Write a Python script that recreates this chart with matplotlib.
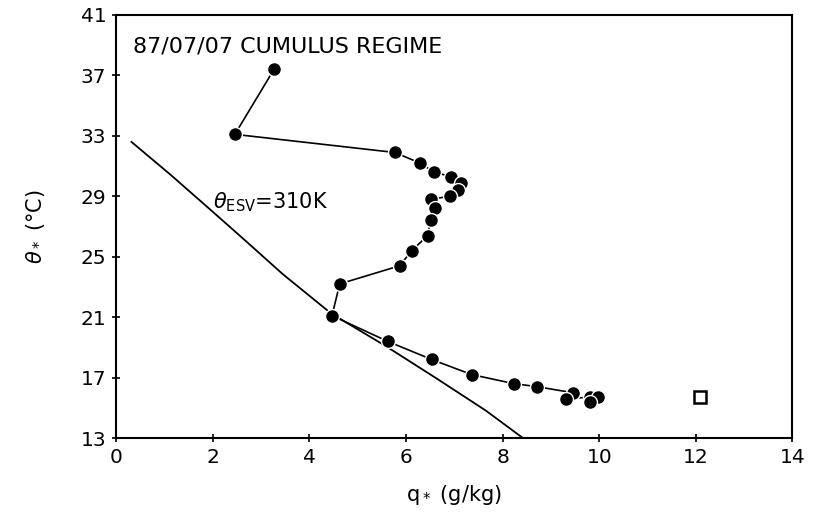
import matplotlib
matplotlib.use("Agg")
import matplotlib.pyplot as plt

# sounding profile, specific humidity (g/kg) vs potential temperature (deg C)
q_obs = [3.27, 2.46, 5.77, 6.29, 6.58, 6.93, 7.15, 7.07, 6.91, 6.51, 6.60, 6.51,
         6.45, 6.12, 5.87, 4.63, 4.47, 5.62, 6.53, 7.36, 8.23, 8.71, 9.45, 9.31,
         9.80, 9.97, 9.80]
theta_obs = [37.4, 33.1, 31.9, 31.2, 30.6, 30.3, 29.9, 29.4, 29.0, 28.8, 28.2, 27.4,
             26.4, 25.4, 24.4, 23.2, 21.1, 19.4, 18.2, 17.2, 16.6, 16.4, 16.0, 15.6,
             15.7, 15.7, 15.4]

# surface value
q_sfc = [12.08]
theta_sfc = [15.7]

# theta_ESV = 310 K isoline
q_esv = [0.32, 1.12, 1.94, 2.70, 3.45, 4.45, 5.60, 6.63, 7.66, 8.42]
theta_esv = [32.6, 30.45, 28.15, 26.0, 23.85, 21.25, 19.05, 16.95, 14.8, 13.0]

x_ticks = [0, 2, 4, 6, 8, 10, 12, 14]
y_ticks = [13, 17, 21, 25, 29, 33, 37, 41]

plt.rcParams["font.family"] = ["DejaVu Sans"]
plt.rcParams["mathtext.fontset"] = "dejavusans"

fig = plt.figure(figsize=(8.25, 5.17), dpi=100)
ax = fig.add_axes([0.1406, 0.1528, 0.8200, 0.8182])

ax.plot(q_esv, theta_esv, color="black", lw=1.3)
ax.plot(q_obs, theta_obs, color="black", lw=1.2, marker="o", ms=10,
        mfc="black", mec="white", mew=1.0)
ax.plot(q_sfc, theta_sfc, ls="none", marker="s", ms=9, mfc="white",
        mec="black", mew=1.8)

ax.text(0.35, 38.5, "87/07/07 CUMULUS REGIME", fontsize=16, ha="left",
        va="baseline")
ax.text(2.0, 28.2, r"$\theta_{\mathrm{ESV}}$=310K", fontsize=15, ha="left",
        va="baseline")

ax.set_xlim(0, 14)
ax.set_ylim(13, 41)
ax.set_xticks(x_ticks)
ax.set_yticks(y_ticks)
ax.tick_params(direction="inout", length=6, width=1.2, labelsize=14.5, pad=4)
for side in ax.spines.values():
    side.set_linewidth(1.5)

ax.set_xlabel(r"q$_*$ (g/kg)", fontsize=15, labelpad=12)
ax.set_ylabel(r"$\theta_*$ (°C)", fontsize=15, labelpad=24)

fig.savefig("out.png", dpi=100)
